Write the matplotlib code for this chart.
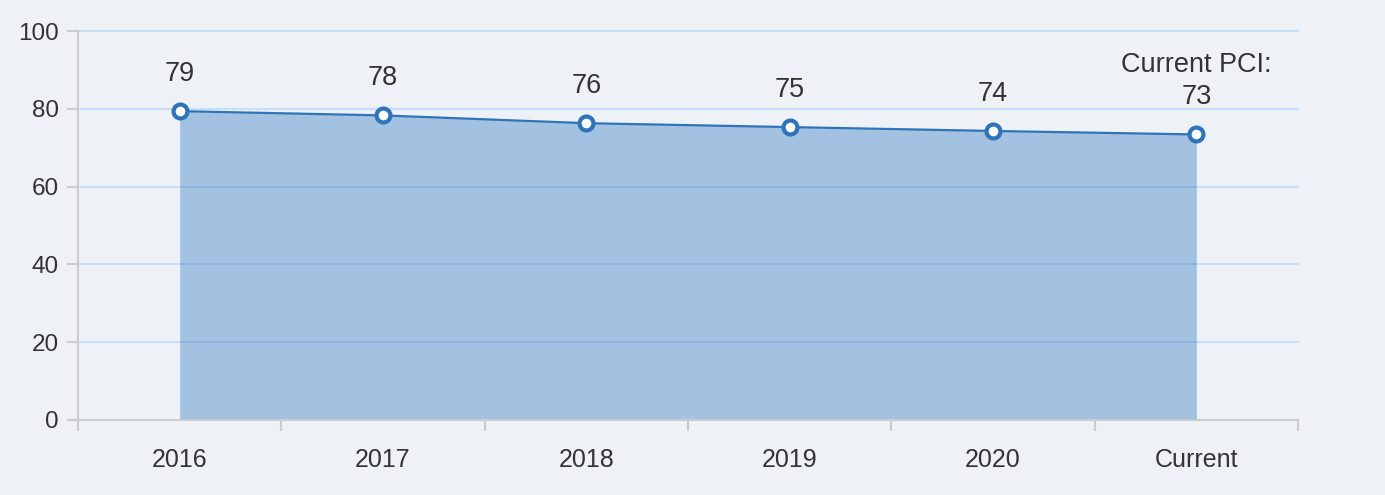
import matplotlib
matplotlib.use("Agg")
import matplotlib.pyplot as plt

categories = ["2016", "2017", "2018", "2019", "2020", "Current"]
pci_values = [79.4, 78.3, 76.3, 75.3, 74.3, 73.4]
point_labels = ["79", "78", "76", "75", "74", "Current PCI:\n73"]
y_ticks = [0, 20, 40, 60, 80, 100]

plt.rcParams['font.family'] = ['Liberation Sans', 'DejaVu Sans']

bg = "#eef2f7"
fig = plt.figure(figsize=(13.85, 4.95), dpi=100, facecolor=bg)
ax = fig.add_axes([78/1385, 75/495, (1298-78)/1385, (420-31)/495], facecolor=bg)

x = list(range(len(categories)))
ax.fill_between(x, 0, pci_values, color="#3d7fc1", alpha=0.42, linewidth=0, zorder=2)
ax.plot(x, pci_values, color="#2f74b8", linewidth=1.6, zorder=4)
ax.plot(x, pci_values, linestyle="none", marker="o", markersize=10,
        markerfacecolor="white", markeredgecolor="#2f74b8", markeredgewidth=3, zorder=5)

for xi, v, lab in zip(x, pci_values, point_labels):
    ax.annotate(lab, (xi, v), xytext=(0, 17.5), textcoords="offset points",
                ha="center", va="bottom", fontsize=19.5, color="#333333",
                linespacing=1.3, zorder=6)

ax.set_xlim(-0.5, len(categories) - 0.5)
ax.set_ylim(0, 100)
ax.set_yticks(y_ticks)
ax.set_yticklabels([str(t) for t in y_ticks])
ax.set_xticks(x)
ax.set_xticklabels(categories)
ax.set_xticks([i - 0.5 for i in range(len(categories) + 1)], minor=True)

ax.tick_params(axis="x", which="major", length=0, pad=20, labelsize=18, labelcolor="#333333")
ax.tick_params(axis="x", which="minor", length=8, width=1.5, color="#cccccc", direction="out")
ax.tick_params(axis="y", which="major", length=8, width=1.5, color="#cccccc", pad=6,
               labelsize=17.5, labelcolor="#333333")

ax.yaxis.grid(True, color="#c8ddf7", linewidth=1.5, zorder=1, clip_on=False)
ax.set_axisbelow(True)
for s in ["top", "right"]:
    ax.spines[s].set_visible(False)
for s in ["left", "bottom"]:
    ax.spines[s].set_color("#cccccc")
    ax.spines[s].set_linewidth(1.5)

fig.savefig("out.png", dpi=100, facecolor=bg)
